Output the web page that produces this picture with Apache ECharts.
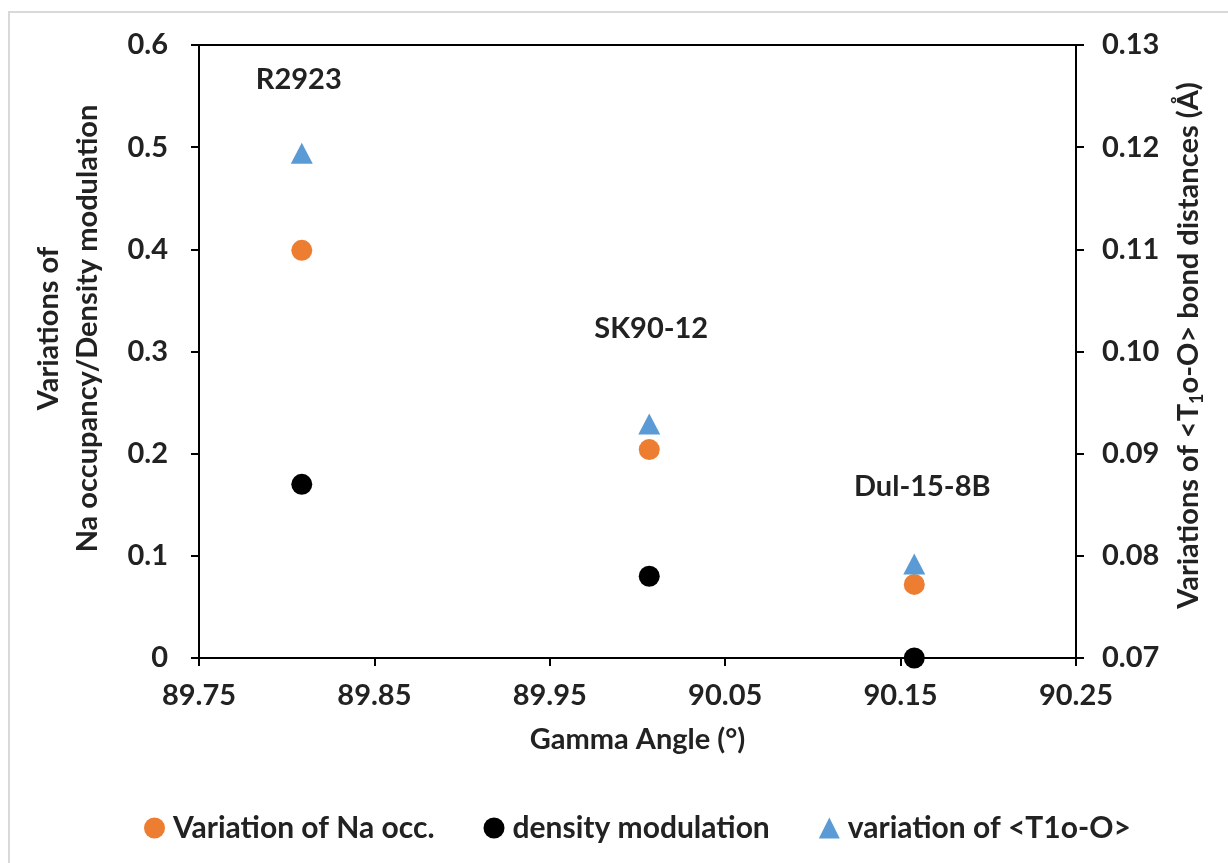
<!DOCTYPE html>
<html>
<head>
<meta charset="utf-8">
<script src="https://cdn.jsdelivr.net/npm/echarts@6/dist/echarts.min.js"></script>
<style>
  html, body { margin: 0; padding: 0; background: #fff; }
  #chart { width: 1228px; height: 863px; }
</style>
</head>
<body>
<div id="chart"></div>
<script>
// Samples and measured values
const samples = ['R2923', 'SK90-12', 'Dul-15-8B'];
const gammaAngle = [89.8086, 90.0067, 90.1578];
const naOccVariation = [0.399, 0.204, 0.072];
const densityModulation = [0.170, 0.080, 0.000];
const t1oVariation = [0.1194, 0.0929, 0.0792];

// Axis tick values
const xTicks = [89.75, 89.85, 89.95, 90.05, 90.15, 90.25];
const leftTicks = [0, 0.1, 0.2, 0.3, 0.4, 0.5, 0.6];
const rightTicks = [0.07, 0.08, 0.09, 0.10, 0.11, 0.12, 0.13];

const seriesNames = ['Variation of Na occ.', 'density modulation', 'variation of <T1o-O>'];

// Sample-name label offsets relative to the triangle markers
const sampleLabelOffsets = [[-3, -74], [2, -95], [8, -77]];

const TXT = '#222';
const FONT = 'Lato';
const FS = 29;

const chart = echarts.init(document.getElementById('chart'), null, { renderer: 'canvas' });

const pairs = (xs, ys) => xs.map((x, i) => [x, ys[i]]);

const textStyle = (extra) => Object.assign({
  color: TXT, fontFamily: FONT, fontWeight: 'bold', fontSize: FS
}, extra || {});

const axisLine = { show: true, lineStyle: { color: '#000', width: 2 } };
const tickStyle = (vals) => ({ show: true, length: 8, lineStyle: { color: '#000', width: 2 }, customValues: vals });

const option = {
  backgroundColor: '#fff',
  animation: false,
  graphic: [{
    type: 'rect',
    shape: { x: 9, y: 12, width: 1300, height: 1000 },
    style: { fill: 'none', stroke: '#d9d9d9', lineWidth: 2 },
    silent: true, z: -1
  }],
  grid: {
    left: 199, right: 152, top: 45, bottom: 205,
    show: true, borderColor: '#000', borderWidth: 2, backgroundColor: 'transparent'
  },
  legend: {
    left: 139, top: 808,
    itemWidth: 21, itemHeight: 21, itemGap: 49,
    textStyle: textStyle({ fontSize: 30, padding: [0, 0, 0, 3] }),
    data: seriesNames
  },
  xAxis: {
    type: 'value',
    min: xTicks[0], max: xTicks[xTicks.length - 1],
    name: 'Gamma Angle (°)',
    nameLocation: 'middle', nameGap: 67,
    nameTextStyle: textStyle(),
    axisLine: axisLine,
    axisTick: tickStyle(xTicks),
    axisLabel: textStyle({ margin: 23, customValues: xTicks, formatter: v => v.toFixed(2) }),
    splitLine: { show: false }
  },
  yAxis: [{
    type: 'value',
    position: 'left',
    min: leftTicks[0], max: leftTicks[leftTicks.length - 1],
    name: 'Variations of\nNa occupancy/Density modulation',
    nameLocation: 'middle', nameRotate: 90, nameGap: 92,
    nameTextStyle: textStyle({ lineHeight: 39, padding: [0, 0, 0, 46] }),
    axisLine: axisLine,
    axisTick: tickStyle(leftTicks),
    axisLabel: textStyle({ margin: 31, customValues: leftTicks, formatter: v => (v === 0 ? '0' : v.toFixed(1)) }),
    splitLine: { show: false }
  }, {
    type: 'value',
    position: 'right',
    min: rightTicks[0], max: rightTicks[rightTicks.length - 1],
    name: 'Variations of <T{sub|1}o-O> bond distances (Å)',
    nameLocation: 'middle', nameRotate: 90, nameGap: 95,
    nameTextStyle: textStyle({
      lineHeight: 35, padding: [0, 0, 0, 12],
      rich: {
        sub: { color: TXT, fontFamily: FONT, fontWeight: 'bold', fontSize: 18, lineHeight: 16, verticalAlign: 'bottom' }
      }
    }),
    axisLine: axisLine,
    axisTick: tickStyle(rightTicks),
    axisLabel: textStyle({ margin: 26, customValues: rightTicks, formatter: v => v.toFixed(2) }),
    splitLine: { show: false }
  }],
  series: [{
    name: seriesNames[0],
    type: 'scatter',
    yAxisIndex: 0,
    symbol: 'circle', symbolSize: 21,
    itemStyle: { color: '#ED7D31', opacity: 1 },
    clip: false,
    data: pairs(gammaAngle, naOccVariation)
  }, {
    name: seriesNames[1],
    type: 'scatter',
    yAxisIndex: 0,
    symbol: 'circle', symbolSize: 21,
    itemStyle: { color: '#000', opacity: 1 },
    clip: false,
    data: pairs(gammaAngle, densityModulation)
  }, {
    name: seriesNames[2],
    type: 'scatter',
    yAxisIndex: 1,
    symbol: 'triangle', symbolSize: [22, 21],
    itemStyle: { color: '#5B9BD5', opacity: 1 },
    clip: false,
    data: gammaAngle.map((x, i) => ({
      value: [x, t1oVariation[i]],
      label: textStyle({
        show: true,
        position: 'inside',
        offset: sampleLabelOffsets[i],
        formatter: samples[i]
      })
    }))
  }]
};

chart.setOption(option);
</script>
</body>
</html>
